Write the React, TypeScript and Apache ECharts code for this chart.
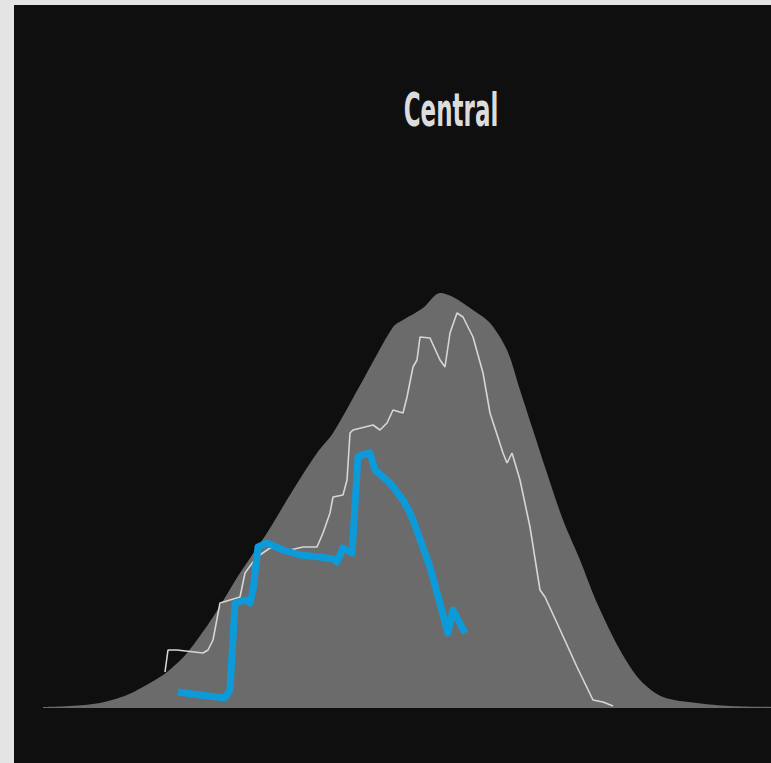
import React, { useEffect, useRef } from "react";
import * as echarts from "echarts";

// x positions (horizontal units) and heights
const areaX = [0, 27, 57, 84, 107, 124, 144, 170, 197, 224, 250, 274, 290, 320, 350, 360, 380, 397, 410, 430, 447, 464, 477, 490, 504, 520, 537, 554, 577, 597, 620, 654, 687, 728];
const areaY = [1, 2, 5, 13, 25, 36, 55, 91, 135, 175, 218, 255, 275, 328, 381, 388, 400, 415, 411, 398, 385, 358, 318, 278, 235, 188, 148, 105, 58, 28, 11, 5, 2, 1];

const whiteX = [122, 125, 134, 160, 165, 170, 177, 187, 197, 202, 210, 214, 227, 247, 260, 274, 280, 287, 290, 300, 304, 307, 310, 330, 337, 344, 350, 360, 364, 370, 374, 377, 387, 397, 402, 407, 414, 420, 430, 440, 447, 460, 464, 469, 477, 487, 497, 502, 514, 534, 550, 560, 570];
const whiteY = [36, 58, 58, 55, 58, 68, 105, 108, 111, 135, 146, 151, 160, 158, 161, 161, 175, 195, 211, 213, 228, 275, 278, 283, 278, 285, 298, 295, 311, 341, 348, 371, 370, 348, 341, 375, 395, 391, 371, 335, 295, 255, 245, 255, 228, 181, 118, 111, 85, 41, 8, 6, 2];

const blueX = [135, 157, 174, 182, 187, 192, 202, 207, 210, 215, 224, 240, 257, 277, 290, 294, 300, 309, 315, 319, 327, 332, 347, 360, 367, 370, 387, 405, 410, 422];
const blueY = [16, 13, 11, 10, 18, 105, 108, 105, 118, 161, 165, 158, 153, 151, 149, 146, 160, 155, 251, 253, 255, 238, 225, 208, 195, 188, 141, 75, 98, 75];

const titleText = "Central";

export default function App() {
  const ref = useRef<HTMLDivElement>(null);
  useEffect(() => {
    if (!ref.current) return;
    const chart = echarts.init(ref.current, undefined, { renderer: "svg" });
    const zip = (xs: number[], ys: number[]) => xs.map((x, i) => [x, ys[i]]);
    chart.setOption({
      animation: false,
      backgroundColor: "#0f0f0f",
      grid: { left: 29, right: 0, top: 103, bottom: 55 },
      xAxis: {
        type: "value",
        min: 0,
        max: 728,
        show: false,
      },
      yAxis: {
        type: "value",
        min: 0,
        max: 600,
        show: false,
      },
      graphic: [
        {
          type: "text",
          x: 437,
          y: 105,
          scaleX: 0.5,
          scaleY: 1,
          style: {
            text: titleText,
            fill: "#dcdcdc",
            font: "bold 46px 'DejaVu Sans'",
            textAlign: "center",
            textVerticalAlign: "middle",
          },
        },
      ],
      series: [
        {
          type: "line",
          data: zip(areaX, areaY),
          smooth: 0.3,
          symbol: "none",
          lineStyle: { width: 0 },
          areaStyle: { color: "#6b6b6b", opacity: 1 },
          z: 1,
        },
        {
          type: "line",
          data: zip(whiteX, whiteY),
          symbol: "none",
          lineStyle: { color: "#d6d6d6", width: 1.6 },
          z: 2,
        },
        {
          type: "line",
          data: zip(blueX, blueY),
          symbol: "none",
          lineStyle: { color: "#0d9ad8", width: 7, join: "round" },
          z: 3,
        },
      ],
    });
    return () => chart.dispose();
  }, []);
  return (
    <div style={{ position: "fixed", left: 0, top: 0, width: 771, height: 763, background: "#e4e4e4" }}>
      <div ref={ref} style={{ position: "absolute", left: 14, top: 5, width: 757, height: 758 }} />
    </div>
  );
}
